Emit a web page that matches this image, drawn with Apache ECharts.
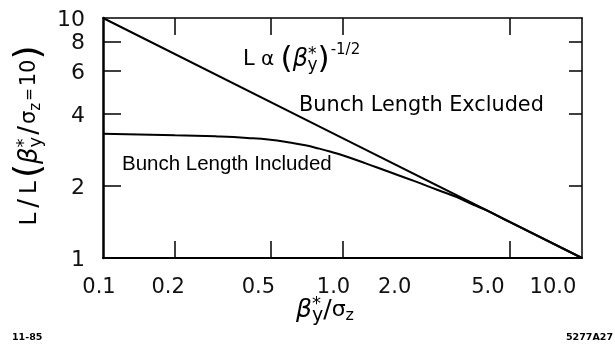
<!DOCTYPE html>
<html><head><meta charset="utf-8">
<script src="https://cdn.jsdelivr.net/npm/echarts@6/dist/echarts.min.js"></script>
<style>html,body{margin:0;padding:0;background:#fff}#c{width:615px;height:344px}</style>
</head><body><div id="c"></div>
<script>
// ---- data ----
const xTickValues = [0.2, 0.5, 1, 5];
const xLabelValues = [0.1, 0.2, 0.5, 1, 2, 5, 10];
const xLabelTexts = ['0.1', '0.2', '0.5', '1.0', '2.0', '5.0', '10.0'];
const yTickValues = [2, 4, 6, 8];
const yLabelValues = [1, 2, 4, 6, 8, 10];
const yLabelTexts = ['1', '2', '4', '6', '8', '10'];
const excludedBeta = [0.1, 1, 10];
const excludedL = [10, 3.16, 1];
const includedBeta = [0.1, 0.2, 0.3, 0.4, 0.5, 0.6, 0.7, 0.8, 0.9, 1.0, 1.25, 1.5, 2.0, 2.5, 3.0, 3.5, 4, 5, 10];
const includedL = [3.29, 3.25, 3.21, 3.165, 3.11, 3.03, 2.95, 2.855, 2.765, 2.68, 2.48, 2.32, 2.09, 1.92, 1.795, 1.67, 1.58, 1.41, 1.0];

// ---- styles ----
const xLabelShift = [4, 7, 12, 9, 20, 22, 29];
const FONT = 'DejaVu Sans';

function idxOf(arr, v) {
  for (let i = 0; i < arr.length; i++) if (Math.abs(Math.log10(arr[i] / v)) < 1e-6) return i;
  return -1;
}
const xRich = {};
xLabelShift.forEach((s, i) => { xRich['s' + i] = { fontSize: 21, fontFamily: FONT, color: '#111', padding: [0, 2 * s, 0, 0] }; });

const chart = echarts.init(document.getElementById('c'), null, { renderer: 'canvas' });
const blk = '#000';
chart.setOption({
  animation: false,
  backgroundColor: '#fff',
  textStyle: { fontFamily: FONT, color: '#111' },
  grid: { left: 103, top: 18, right: 33, bottom: 86, containLabel: false },
  xAxis: [
    {
      type: 'log', logBase: 10, min: 0.1, max: 10, position: 'bottom',
      axisLine: { show: true, lineStyle: { color: blk, width: 2 } },
      axisTick: { show: true, inside: true, length: 17, customValues: xTickValues, lineStyle: { color: blk, width: 1.5 } },
      axisLabel: {
        show: true, margin: 19, customValues: xLabelValues,
        formatter: v => { const i = idxOf(xLabelValues, v); return i < 0 ? '' : '{s' + i + '|' + xLabelTexts[i] + '}'; },
        rich: xRich
      },
      splitLine: { show: false }, minorTick: { show: false }
    },
    {
      type: 'log', logBase: 10, min: 0.1, max: 10, position: 'top',
      axisLine: { show: true, lineStyle: { color: blk, width: 1.5 } },
      axisTick: { show: true, inside: true, length: 17, customValues: xTickValues, lineStyle: { color: blk, width: 1.5 } },
      axisLabel: { show: false }, splitLine: { show: false }
    }
  ],
  yAxis: [
    {
      type: 'log', logBase: 10, min: 1, max: 10, position: 'left',
      axisLine: { show: true, lineStyle: { color: blk, width: 2.5 } },
      axisTick: { show: true, inside: true, length: 18, customValues: yTickValues, lineStyle: { color: blk, width: 1.5 } },
      axisLabel: {
        show: true, margin: 18, customValues: yLabelValues,
        formatter: v => { const i = idxOf(yLabelValues, v); return i < 0 ? '' : '{t|' + yLabelTexts[i] + '}'; },
        rich: { t: { fontSize: 22, color: '#111', fontFamily: FONT, padding: [5, 0, 0, 0] } }
      },
      splitLine: { show: false }
    },
    {
      type: 'log', logBase: 10, min: 1, max: 10, position: 'right',
      axisLine: { show: true, lineStyle: { color: blk, width: 1.5 } },
      axisTick: { show: true, inside: true, length: 13, customValues: yTickValues, lineStyle: { color: blk, width: 1.5 } },
      axisLabel: { show: false }, splitLine: { show: false }
    }
  ],
  series: [
    {
      name: 'Bunch Length Excluded', type: 'line', xAxisIndex: 0, yAxisIndex: 0,
      data: excludedBeta.map((b, i) => [b, excludedL[i]]),
      showSymbol: false, symbol: 'none', lineStyle: { color: blk, width: 2 }
    },
    {
      name: 'Bunch Length Included', type: 'line', xAxisIndex: 0, yAxisIndex: 0,
      data: includedBeta.map((b, i) => [b, includedL[i]]),
      smooth: 0.5, showSymbol: false, symbol: 'none', lineStyle: { color: blk, width: 2 }
    }
  ],
  graphic: [
    {
      type: 'text', x: 243, y: 60,
      style: {
        text: '{n|L}{a| α }{p|(}{b|β}{st|*}{sy|y}{p|)}{e|-1/2}',
        textAlign: 'left', textVerticalAlign: 'middle', fill: '#000',
        rich: {
          n: { fontSize: 21, fontFamily: FONT },
          a: { fontSize: 20, fontFamily: FONT },
          p: { fontSize: 31, fontFamily: FONT },
          b: { fontSize: 24, fontFamily: FONT, fontStyle: 'italic' },
          st: { fontSize: 17, fontFamily: FONT, padding: [0, 0, 11, 0] },
          sy: { fontSize: 17, fontFamily: FONT, padding: [11, 0, 0, -9] },
          e: { fontSize: 15, fontFamily: FONT, padding: [0, 0, 20, 1] }
        }
      }
    },
    {
      type: 'text', x: 299, y: 106,
      style: { text: 'Bunch Length Excluded', textAlign: 'left', textVerticalAlign: 'middle', fill: '#000', fontSize: 20.8, fontFamily: FONT }
    },
    {
      type: 'text', x: 122, y: 164,
      style: { text: 'Bunch Length Included', textAlign: 'left', textVerticalAlign: 'middle', fill: '#000', fontSize: 20.5, fontFamily: 'Liberation Sans' }
    },
    {
      type: 'text', x: 325, y: 310,
      style: {
        text: '{b|β}{st|*}{sy|y}{sl|/}{sg|σ}{sz|z}',
        textAlign: 'center', textVerticalAlign: 'middle', fill: '#000',
        rich: {
          b: { fontSize: 25, fontFamily: FONT, fontStyle: 'italic' },
          st: { fontSize: 18, fontFamily: FONT, padding: [0, 0, 12, 0] },
          sy: { fontSize: 19, fontFamily: FONT, padding: [12, 0, 0, -9] },
          sl: { fontSize: 25, fontFamily: FONT },
          sg: { fontSize: 22, fontFamily: FONT },
          sz: { fontSize: 16, fontFamily: FONT, padding: [12, 0, 0, 0] }
        }
      }
    },
    {
      type: 'text', x: 30, y: 137, rotation: Math.PI / 2,
      style: {
        text: '{n|L}{sl|/}{n|L}{p|(}{b|β}{st|*}{sy|y}{sl|/}{sg|σ}{sz|z}{eq|=}{n2|10}{p|)}',
        textAlign: 'center', textVerticalAlign: 'middle', fill: '#000',
        rich: {
          n: { fontSize: 23, fontFamily: FONT, padding: [0, 3, 0, 3] },
          sl: { fontSize: 26, fontFamily: FONT, padding: [0, 2, 0, 2] },
          p: { fontSize: 36, fontFamily: FONT },
          b: { fontSize: 26, fontFamily: FONT, fontStyle: 'italic' },
          st: { fontSize: 18, fontFamily: FONT, padding: [0, 0, 12, 0] },
          sy: { fontSize: 18, fontFamily: FONT, padding: [12, 0, 0, -9] },
          sg: { fontSize: 21, fontFamily: FONT },
          sz: { fontSize: 15, fontFamily: FONT, padding: [12, 0, 0, 0] },
          eq: { fontSize: 15, fontFamily: FONT, padding: [0, 2, 0, 2] },
          n2: { fontSize: 21, fontFamily: FONT }
        }
      }
    },
    {
      type: 'text', x: 12, y: 338,
      style: { text: '11-85', textAlign: 'left', textVerticalAlign: 'middle', fill: '#000', fontSize: 9.5, fontWeight: 'bold', fontFamily: FONT }
    },
    {
      type: 'text', x: 613, y: 338,
      style: { text: '5277A27', textAlign: 'right', textVerticalAlign: 'middle', fill: '#000', fontSize: 9.5, fontWeight: 'bold', fontFamily: FONT }
    }
  ]
});
</script></body></html>
